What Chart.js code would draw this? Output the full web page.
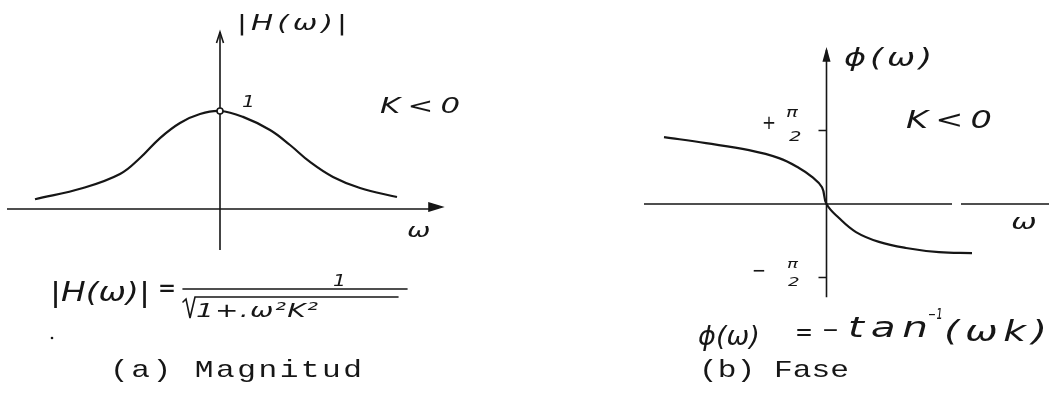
<!DOCTYPE html>
<html>
<head>
<meta charset="utf-8">
<script src="https://cdn.jsdelivr.net/npm/chart.js@4"></script>
<style>
  body { margin: 0; background: #fff; width: 1059px; height: 398px; overflow: hidden; position: relative; font-family: 'DejaVu Sans'; color: #161616; }
  canvas { position: absolute; top: 0; }
  .t { position: absolute; white-space: nowrap; line-height: 1; font-style: italic; transform-origin: 0 0; }
  .cap { font-family: 'Liberation Mono'; font-style: normal; }
  svg { position: absolute; left: 0; top: 0; }
</style>
</head>
<body>
<canvas id="mag" width="470" height="300" style="left:0"></canvas>
<canvas id="fase" width="459" height="310" style="left:600px"></canvas>
<svg width="1059" height="398">
  <g stroke="#161616" stroke-width="1.6" fill="none" stroke-linecap="round">
    <line x1="183" y1="289" x2="407" y2="289"/>
    <path d="M183,302 L186,299 L190,318 L195,297 L398,297"/>
  </g>
  <circle cx="52" cy="338" r="1.3" fill="#161616"/>
</svg>
<script>
// |H(w)|
const magOmega = [-3.7, -2.74, -2.0, -1.6, -1.2, -0.8, -0.4, 0, 0.46, 1.0, 1.4, 1.8, 2.26, 2.8, 3.54];
const magValor = [0.10, 0.214, 0.357, 0.52, 0.724, 0.878, 0.969, 1.0, 0.94, 0.806, 0.653, 0.48, 0.327, 0.214, 0.122];

// fase en radianes
const faseOmega = [-3.25, -2.41, -1.55, -0.95, -0.55, -0.29, -0.09, 0, 0.25, 0.59, 1.05, 1.59, 2.25, 2.91];
const faseValor = [1.43, 1.30, 1.15, 0.98, 0.77, 0.58, 0.36, 0, -0.30, -0.60, -0.81, -0.94, -1.03, -1.05];
const faseMarcas = [Math.PI / 2, -Math.PI / 2];

const TINTA = '#161616';

function flecha(ctx, x, y, dx, dy, largo, ancho, llena) {
  // punta en (x, y), apuntando en la direccion (dx, dy)
  const bx = x - dx * largo, by = y - dy * largo;
  const nx = -dy * ancho, ny = dx * ancho;
  ctx.beginPath();
  ctx.moveTo(bx + nx, by + ny);
  ctx.lineTo(x, y);
  ctx.lineTo(bx - nx, by - ny);
  if (llena) { ctx.closePath(); ctx.fill(); }
  ctx.stroke();
}

// dibuja los ejes cruzando en el origen
const ejes = {
  id: 'ejes',
  beforeDatasetsDraw(chart, args, o) {
    const { ctx, scales: { x, y } } = chart;
    const x0 = x.getPixelForValue(0), y0 = y.getPixelForValue(0);
    ctx.save();
    ctx.strokeStyle = TINTA;
    ctx.fillStyle = TINTA;
    ctx.lineWidth = 1.6;
    ctx.beginPath();
    o.xTramos.forEach(([a, b]) => {
      ctx.moveTo(x.getPixelForValue(a), y0);
      ctx.lineTo(x.getPixelForValue(b), y0);
    });
    ctx.moveTo(x0, y.getPixelForValue(o.yDesde));
    ctx.lineTo(x0, y.getPixelForValue(o.yHasta));
    (o.marcas || []).forEach(v => {
      const py = y.getPixelForValue(v);
      ctx.moveTo(x0 - 8, py);
      ctx.lineTo(x0, py);
    });
    ctx.stroke();
    if (o.flechaX) flecha(ctx, x.getPixelForValue(o.flechaX), y0 - 2, 1, 0, 13, 4, true);
    flecha(ctx, x0, y.getPixelForValue(o.yHasta), 0, -1, 11, o.flechaYLlena ? 3 : 3.5, o.flechaYLlena);
    ctx.restore();
  }
};

function grafica(id, omega, valor, xr, yr, opcEjes, extra) {
  return new Chart(document.getElementById(id), {
    type: 'line',
    data: {
      datasets: [Object.assign({
        data: omega.map((w, i) => ({ x: w, y: valor[i] })),
        borderColor: TINTA,
        borderWidth: 2.2,
        pointRadius: 0,
        tension: 0.4
      }, extra)]
    },
    options: {
      responsive: false,
      animation: false,
      events: [],
      layout: { padding: 0 },
      plugins: { legend: { display: false }, tooltip: { enabled: false }, ejes: opcEjes },
      scales: {
        x: { type: 'linear', display: false, min: xr[0], max: xr[1] },
        y: { type: 'linear', display: false, min: yr[0], max: yr[1] }
      }
    },
    plugins: [ejes]
  });
}

grafica('mag', magOmega, magValor, [-4.4, 5.0], [-0.9286, 2.1327],
  { xTramos: [[-4.26, 4.3]], flechaX: 4.44, yDesde: -0.418, yHasta: 1.806, flechaYLlena: false },
  {
    pointRadius: magOmega.map(w => (w === 0 ? 3 : 0)),
    pointBorderColor: TINTA,
    pointBackgroundColor: '#fff',
    pointBorderWidth: 1.6
  });

grafica('fase', faseOmega, faseValor, [-4.53, 4.65], [-2.265, 4.359],
  { xTramos: [[-3.65, 2.51], [2.69, 4.45]], yDesde: -1.99, yHasta: 3.29, marcas: faseMarcas, flechaYLlena: true },
  {});

// textos: x izquierda, linea base, tamano, ancho deseado.
// el ancho se consigue estirando hasta smax y el resto con espacio entre letras
function rotulo(txt, x, base, size, ancho, clase, smax) {
  const d = document.createElement('div');
  d.className = 't' + (clase ? ' ' + clase : '');
  d.style.fontSize = size + 'px';
  d.innerHTML = txt;
  document.body.appendChild(d);
  const k = clase === 'cap' ? 0.767 : 0.846;
  d.style.left = x + 'px';
  d.style.top = (base - k * size) + 'px';
  if (!ancho) return;
  const w0 = d.getBoundingClientRect().width;
  const n = Array.from(d.textContent).length;
  const s = Math.min(ancho / w0, smax || 1.4);
  const w1 = ancho / s;
  if (w1 > w0 && n > 1) d.style.letterSpacing = ((w1 - w0) / (n - 1)) + 'px';
  d.style.transform = 'scaleX(' + s + ')';
}

// magnitud
rotulo('|H(ω)|', 237, 31, 21, 110);
rotulo('1', 242, 108, 15, 13);
rotulo('K&lt;0', 380, 114, 22, 80);
rotulo('ω', 407, 237, 20, 26);
rotulo('|H(ω)|', 50, 301, 27, 100);
rotulo('=', 158, 297, 26, 18);
rotulo('1', 333, 287, 16, 13);
rotulo('1+.ω²K²', 196, 317, 20, 122);
rotulo('(a) Magnitud', 110, 377, 24, 252, 'cap', 1.3);

// fase
rotulo('ϕ(ω)', 844, 66, 24, 88);
rotulo('+', 762, 129, 20, 14);
rotulo('π', 786, 117, 14, 15);
rotulo('2', 789, 141, 14, 14);
rotulo('K&lt;0', 906, 128, 24, 86);
rotulo('ω', 1011, 230, 22, 35);
rotulo('−', 752, 277, 20, 14);
rotulo('π', 787, 268, 13, 15);
rotulo('2', 788, 286, 13, 15);
rotulo('ϕ(ω)', 698, 345, 27, 62);
rotulo('=', 795, 340, 24, 18);
rotulo('−', 822, 338, 22, 17);
rotulo('tan', 848, 338, 29, 80);
rotulo('⁻¹', 928, 328, 26, 14);
rotulo('(ωk)', 944, 342, 28, 103);
rotulo('(b) Fase', 699, 377, 24, 150, 'cap', 1.3);
</script>
</body>
</html>
